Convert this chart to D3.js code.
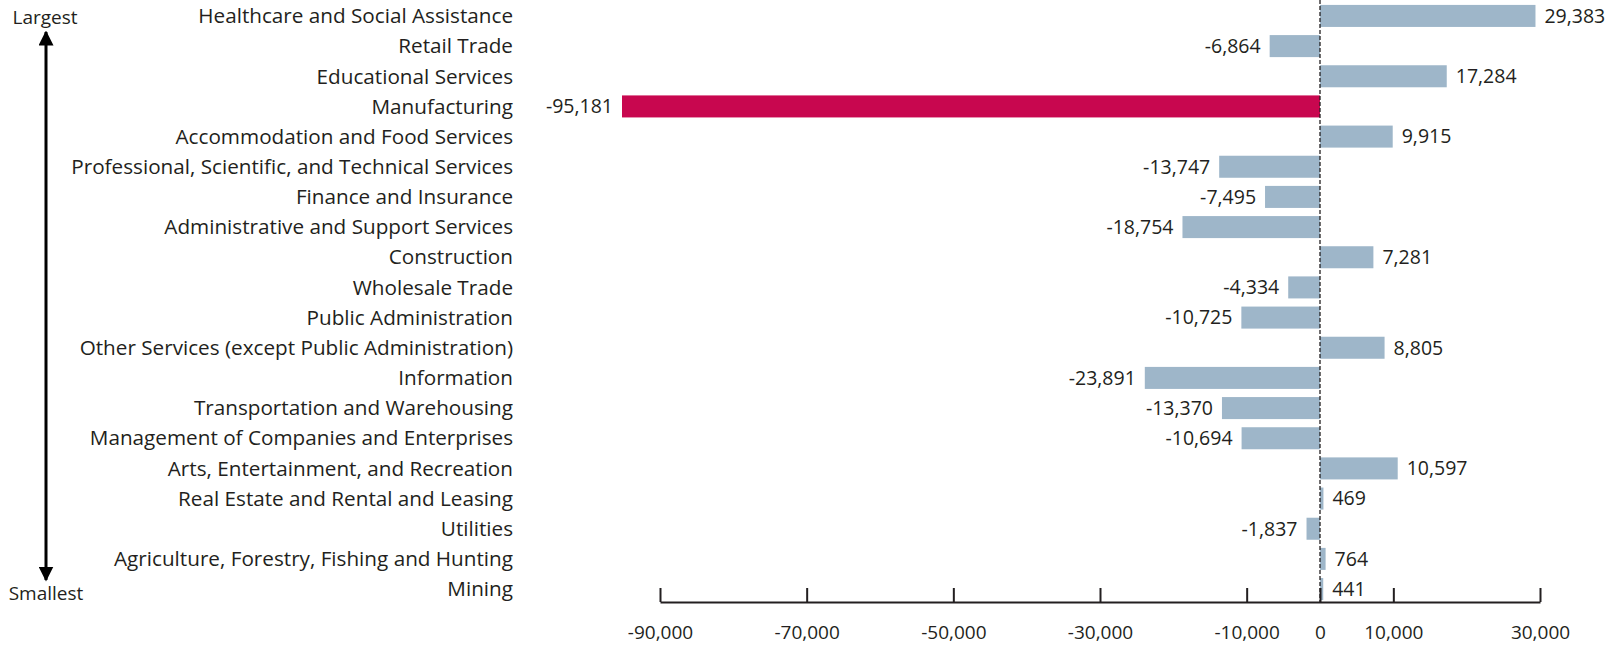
<!DOCTYPE html>
<html>
<head>
<meta charset="utf-8">
<script src="https://cdn.jsdelivr.net/npm/d3@7"></script>
<style>
  html, body { margin: 0; padding: 0; background: #fff; }
  svg { display: block; }
  text { font-family: "Open Sans", "Noto Sans", sans-serif; fill: #231f20; }
</style>
</head>
<body>
<svg id="chart" width="1613" height="648"></svg>
<script>
// Industries, ordered from largest to smallest
const industries = [
  "Healthcare and Social Assistance",
  "Retail Trade",
  "Educational Services",
  "Manufacturing",
  "Accommodation and Food Services",
  "Professional, Scientific, and Technical Services",
  "Finance and Insurance",
  "Administrative and Support Services",
  "Construction",
  "Wholesale Trade",
  "Public Administration",
  "Other Services (except Public Administration)",
  "Information",
  "Transportation and Warehousing",
  "Management of Companies and Enterprises",
  "Arts, Entertainment, and Recreation",
  "Real Estate and Rental and Leasing",
  "Utilities",
  "Agriculture, Forestry, Fishing and Hunting",
  "Mining"
];

// Change in employment per industry
const changes = [
  29383, -6864, 17284, -95181, 9915, -13747, -7495, -18754, 7281, -4334,
  -10725, 8805, -23891, -13370, -10694, 10597, 469, -1837, 764, 441
];

const highlighted = ["Manufacturing"];

const tickValues = [-90000, -70000, -50000, -30000, -10000, 0, 10000, 30000];

const svg = d3.select("#chart");

const x = d3.scaleLinear()
  .domain([-90000, 30000])
  .range([660, 1540]);

const y = d3.scaleBand()
  .domain(industries)
  .range([1, 604])
  .paddingInner(0.27)
  .paddingOuter(0.13);

// Thousands separator with a plain hyphen for negatives
const fmt = v => (v < 0 ? "-" : "") + d3.format(",")(Math.abs(v));
const rows = industries.map((name, i) => ({ name, value: changes[i] }));

// Bars
svg.append("g")
  .selectAll("rect")
  .data(rows)
  .join("rect")
  .attr("x", d => x(Math.min(0, d.value)))
  .attr("width", d => Math.abs(x(d.value) - x(0)))
  .attr("y", d => y(d.name))
  .attr("height", y.bandwidth())
  .attr("fill", d => highlighted.includes(d.name) ? "#c8074f" : "#9eb6c9");

// Zero reference line
svg.append("line")
  .attr("x1", x(0)).attr("x2", x(0))
  .attr("y1", 0).attr("y2", 602)
  .attr("stroke", "#231f20")
  .attr("stroke-width", 1.3)
  .attr("stroke-dasharray", "4,2");

// Value labels
svg.append("g")
  .selectAll("text")
  .data(rows)
  .join("text")
  .attr("x", d => d.value < 0 ? x(d.value) - 9 : x(d.value) + 9)
  .attr("y", d => y(d.name) + y.bandwidth() / 2)
  .attr("dy", "0.35em")
  .attr("text-anchor", d => d.value < 0 ? "end" : "start")
  .style("font-size", "19.5px")
  .text(d => fmt(d.value));

// Category labels
svg.append("g")
  .selectAll("text")
  .data(rows)
  .join("text")
  .attr("x", 513)
  .attr("y", d => y(d.name) + y.bandwidth() / 2)
  .attr("dy", "0.35em")
  .attr("text-anchor", "end")
  .style("font-size", "20.7px")
  .text(d => d.name);

// Bottom axis with upward ticks
const axis = svg.append("g")
  .attr("transform", "translate(0,602)")
  .call(d3.axisBottom(x).tickValues(tickValues).tickSize(-14).tickFormat(fmt).tickSizeOuter(0));
axis.select(".domain").attr("stroke", "#231f20").attr("stroke-width", 2.2);
axis.selectAll(".tick line").attr("stroke", "#231f20").attr("stroke-width", 2);
axis.selectAll(".tick text")
  .attr("y", 24)
  .style("font-size", "19px")
  .style("font-family", "\"Open Sans\", \"Noto Sans\", sans-serif")
  .attr("fill", "#231f20");

// Largest / Smallest double arrow
const defs = svg.append("defs");
defs.append("marker")
  .attr("id", "arrowhead")
  .attr("viewBox", "0 0 10 10")
  .attr("refX", 9).attr("refY", 5)
  .attr("markerWidth", 5).attr("markerHeight", 5)
  .attr("markerUnits", "strokeWidth")
  .attr("orient", "auto-start-reverse")
  .append("path")
  .attr("d", "M0,0 L10,5 L0,10 Z")
  .attr("fill", "#000");

svg.append("line")
  .attr("x1", 46).attr("x2", 46)
  .attr("y1", 32).attr("y2", 580)
  .attr("stroke", "#000")
  .attr("stroke-width", 3)
  .attr("marker-start", "url(#arrowhead)")
  .attr("marker-end", "url(#arrowhead)");

svg.append("text")
  .attr("x", 45).attr("y", 17)
  .attr("dy", "0.35em")
  .attr("text-anchor", "middle")
  .style("font-size", "19px")
  .text("Largest");

svg.append("text")
  .attr("x", 46).attr("y", 593)
  .attr("dy", "0.35em")
  .attr("text-anchor", "middle")
  .style("font-size", "19px")
  .text("Smallest");
</script>
</body>
</html>
